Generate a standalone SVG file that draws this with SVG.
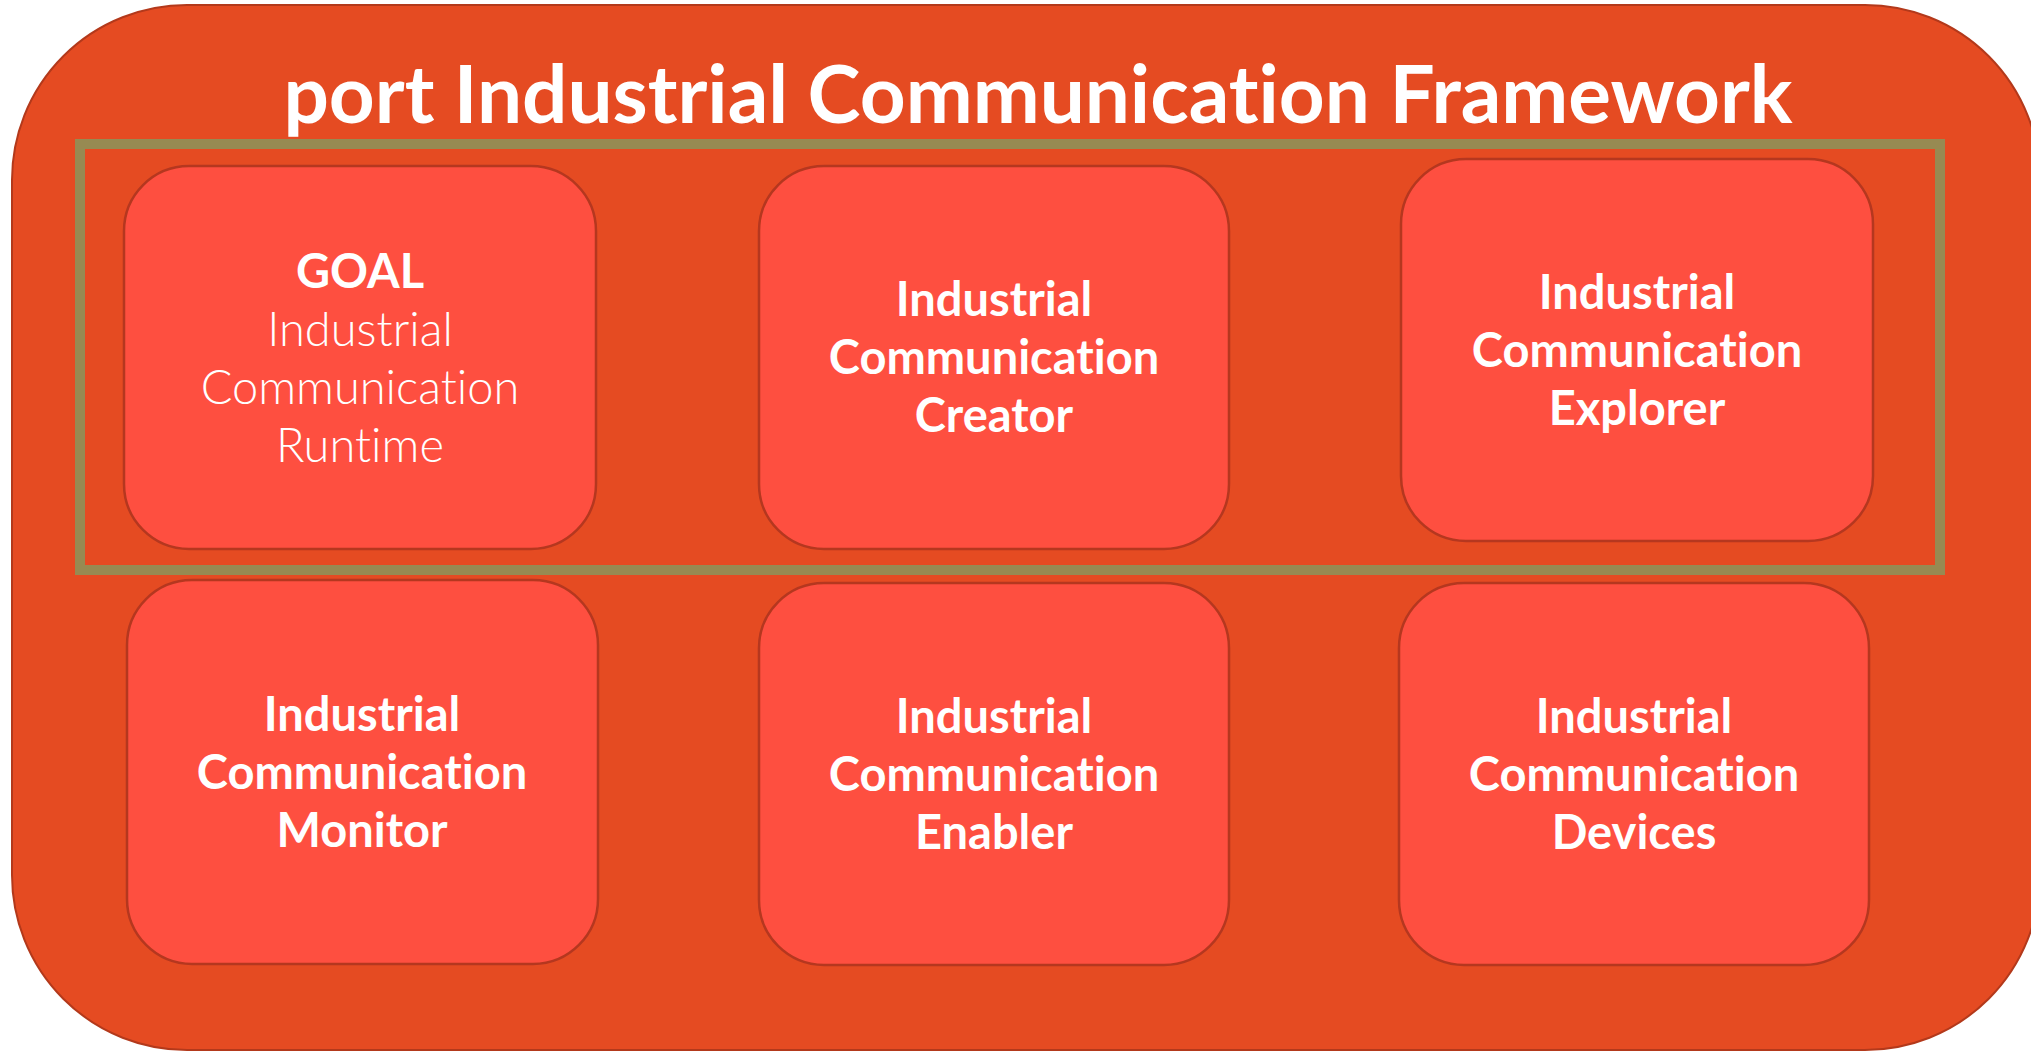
<svg xmlns="http://www.w3.org/2000/svg" width="2031" height="1052" viewBox="0 0 2031 1052">
<style>
.outer{fill:#e54b22;stroke:#b3391b;stroke-width:2}
.frame{fill:none;stroke:#978a52;stroke-width:10}
.box{fill:#fe4f40;stroke:#b5371f;stroke-width:2.5}
.t{font-family:Lato,"Liberation Sans",sans-serif;fill:#ffffff;text-anchor:middle;font-variant-ligatures:none;font-feature-settings:"liga" 0,"clig" 0}
.b{font-weight:700;font-size:47px}
.l{font-weight:300;font-size:47px}
.title{font-weight:700;font-size:80px}
</style>
<rect class="outer" x="12" y="5" width="2028" height="1045" rx="175" ry="175"/>
<text class="t title" x="1038" y="123">port Industrial Communication Framework</text>
<rect class="frame" x="80" y="144" width="1860" height="426"/>
<g id="node-runtime">
<rect class="box" x="124" y="166" width="472" height="383" rx="65" ry="65"/>
<text class="t b" x="360" y="288">GOAL</text>
<text class="t l" x="360" y="346">Industrial</text>
<text class="t l" x="360" y="404">Communication</text>
<text class="t l" x="360" y="462">Runtime</text>
</g>
<g id="node-creator">
<rect class="box" x="759" y="166" width="470" height="383" rx="65" ry="65"/>
<text class="t b" x="994" y="316">Industrial</text>
<text class="t b" x="994" y="374">Communication</text>
<text class="t b" x="994" y="432">Creator</text>
</g>
<g id="node-explorer">
<rect class="box" x="1401" y="159" width="472" height="382" rx="65" ry="65"/>
<text class="t b" x="1637" y="309">Industrial</text>
<text class="t b" x="1637" y="367">Communication</text>
<text class="t b" x="1637" y="425">Explorer</text>
</g>
<g id="node-monitor">
<rect class="box" x="127" y="580" width="471" height="384" rx="65" ry="65"/>
<text class="t b" x="362" y="731">Industrial</text>
<text class="t b" x="362" y="789">Communication</text>
<text class="t b" x="362" y="847">Monitor</text>
</g>
<g id="node-enabler">
<rect class="box" x="759" y="583" width="470" height="382" rx="65" ry="65"/>
<text class="t b" x="994" y="733">Industrial</text>
<text class="t b" x="994" y="791">Communication</text>
<text class="t b" x="994" y="849">Enabler</text>
</g>
<g id="node-devices">
<rect class="box" x="1399" y="583" width="470" height="382" rx="65" ry="65"/>
<text class="t b" x="1634" y="733">Industrial</text>
<text class="t b" x="1634" y="791">Communication</text>
<text class="t b" x="1634" y="849">Devices</text>
</g>
<g id="connectors"></g>
</svg>
